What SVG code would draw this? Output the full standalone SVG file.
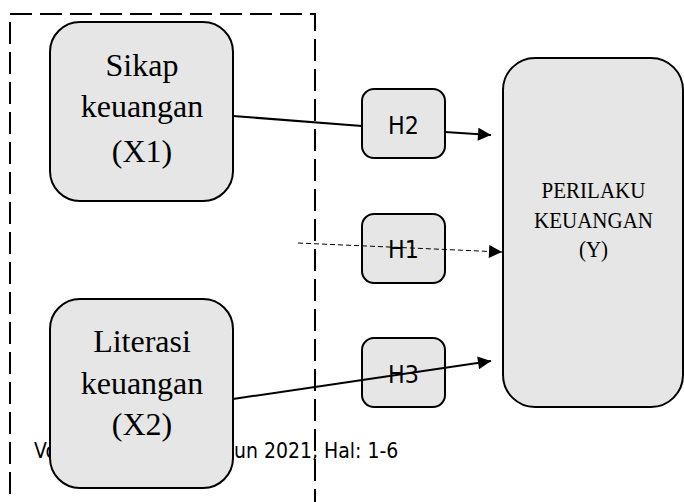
<svg xmlns="http://www.w3.org/2000/svg" width="684" height="502" viewBox="0 0 684 502">
<defs>
<style>
.box{fill:#e6e6e6;stroke:#000;stroke-width:2}
.serif{font-family:"Liberation Serif","Times New Roman",serif;fill:#000;text-anchor:middle}
.sans{font-family:"DejaVu Sans",Verdana,sans-serif;fill:#000}
.hl{font-family:"DejaVu Sans",Verdana,sans-serif;fill:#000;font-size:25px;text-anchor:middle}
.conn{stroke:#000;fill:none}
</style>
<marker id="arr" viewBox="0 0 10 10" refX="10" refY="5" markerWidth="17" markerHeight="13" markerUnits="userSpaceOnUse" orient="auto">
<path d="M0,0 L10,5 L0,10 Z" fill="#000"/>
</marker>
</defs>
<rect width="684" height="502" fill="#fff"/>
<g id="footer">
<text class="sans" font-size="21" transform="translate(34,458) scale(0.9,1)">Vo</text>
<text class="sans" font-size="21" transform="translate(234,458) scale(0.9,1)">un 2021, Hal: 1-6</text>
</g>
<g id="group-frame">
<rect x="10" y="14" width="305" height="520" fill="none" stroke="#000" stroke-width="2" stroke-dasharray="22 8"/>
</g>
<g id="sikap">
<rect class="box" x="50" y="22" width="183" height="179" rx="30"/>
<text class="serif" font-size="32" x="142" y="76">Sikap</text>
<text class="serif" font-size="32" x="142" y="117">keuangan</text>
<text class="serif" font-size="32" x="142" y="162">(X1)</text>
</g>
<g id="literasi">
<rect class="box" x="50" y="299" width="183" height="189" rx="30"/>
<text class="serif" font-size="32" x="142" y="352">Literasi</text>
<text class="serif" font-size="32" x="142" y="394">keuangan</text>
<text class="serif" font-size="32" x="142" y="435">(X2)</text>
</g>
<g id="h2">
<rect class="box" x="362" y="89" width="83" height="69" rx="12"/>
<text class="hl" transform="translate(403.5,134) scale(0.89,1)">H2</text>
</g>
<g id="h1">
<rect class="box" x="362" y="214" width="83" height="69" rx="12"/>
<text class="hl" transform="translate(403.5,258) scale(0.89,1)">H1</text>
</g>
<g id="h3">
<rect class="box" x="362" y="338" width="83" height="69" rx="12"/>
<text class="hl" transform="translate(403.5,383) scale(0.89,1)">H3</text>
</g>
<g id="perilaku">
<rect class="box" x="503" y="58" width="180" height="349" rx="32"/>
<text class="serif" font-size="21" transform="translate(593.5,198) scale(1,1.08)">PERILAKU</text>
<text class="serif" font-size="21" transform="translate(593.5,228) scale(1,1.08)">KEUANGAN</text>
<text class="serif" font-size="21" transform="translate(593.5,257) scale(1,1.08)">(Y)</text>
</g>
<g id="connectors">
<line class="conn" stroke-width="2" x1="233" y1="116" x2="362" y2="126"/>
<line class="conn" stroke-width="2" x1="445" y1="132" x2="491" y2="135" marker-end="url(#arr)"/>
<line class="conn" stroke-width="1" stroke-dasharray="5 3" x1="298" y1="243" x2="502" y2="252" marker-end="url(#arr)"/>
<line class="conn" stroke-width="2" x1="233" y1="399" x2="491" y2="361" marker-end="url(#arr)"/>
</g>
</svg>
